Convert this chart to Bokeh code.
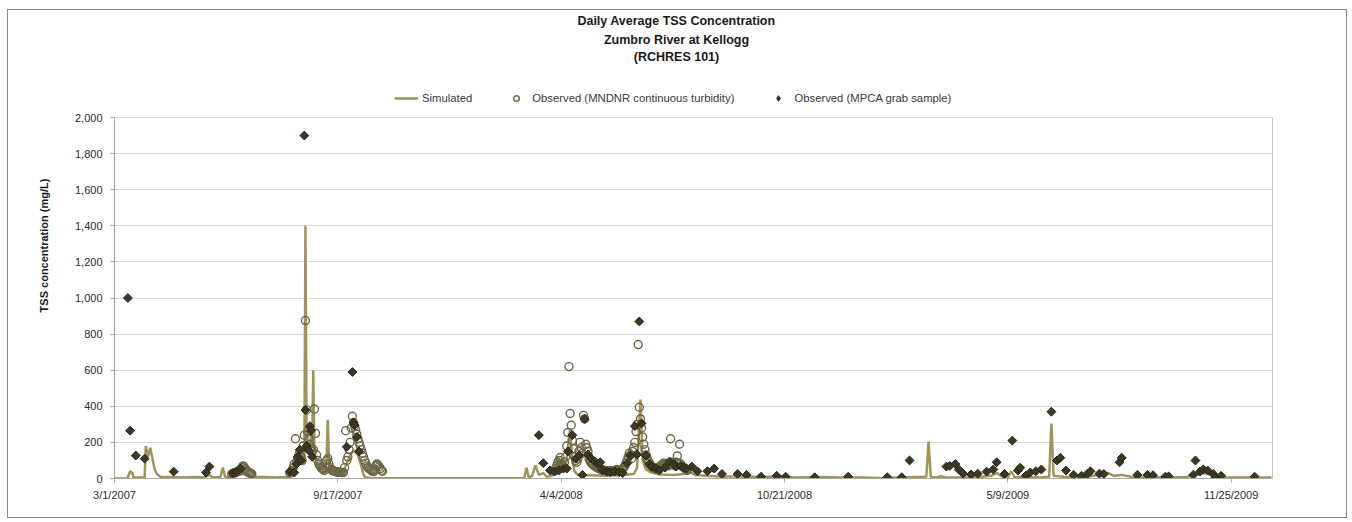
import numpy as np
import pandas as pd
from bokeh.plotting import figure
from bokeh.models import (Range1d, FixedTicker, NumeralTickFormatter, Legend,
                          LegendItem, Label, ColumnDataSource, LinearAxis)
from bokeh.embed import file_html
from bokeh.resources import INLINE

# ---------------- data ----------------
START = "2007-03-01"
END = "2010-01-01"
TITLE_LINES = ["Daily Average TSS Concentration", "Zumbro River at Kellogg", "(RCHRES 101)"]
Y_LABEL = "TSS concentration (mg/L)"
X_TICK_LABELS = ["3/1/2007", "9/17/2007", "4/4/2008", "10/21/2008", "5/9/2009", "11/25/2009"]
Y_TICKS = [0, 200, 400, 600, 800, 1000, 1200, 1400, 1600, 1800, 2000]
SERIES_NAMES = ["Simulated", "Observed (MNDNR continuous turbidity)", "Observed (MPCA grab sample)"]

# Simulated (vertices, days after START)
sim_day = [0, 11, 12, 14, 16, 17, 27, 28, 30, 32, 34, 36, 38, 41, 50, 60, 75, 80, 85, 88,
           95, 97, 99, 105, 110, 115, 120, 125, 135, 145, 155, 158, 160, 163, 166, 168, 170,
           171, 172, 173, 175, 176, 177, 178, 179, 181, 183, 185, 187, 189, 190, 191, 192,
           193, 195, 198, 202, 205, 207, 209, 212, 215, 218, 221, 223, 225, 230, 300, 365,
           367, 369, 371, 374, 377, 380, 384, 387, 392, 395, 397, 400, 404, 408, 410, 412,
           415, 425, 440, 455, 465, 468, 471, 473, 476, 480, 488, 500, 510, 515, 520, 530,
           545, 560, 575, 590, 610, 630, 650, 670, 690, 700, 715, 727, 729, 731, 735, 740,
           745, 770, 785, 790, 795, 800, 803, 806, 830, 837, 839, 841, 850, 870, 890, 895,
           902, 910, 940, 960, 970, 978, 985, 995, 1036]
sim_val = [0, 0, 8, 40, 30, 5, 5, 180, 120, 170, 110, 50, 25, 10, 8, 5, 8, 5, 20, 5,
           10, 60, 10, 8, 20, 25, 15, 10, 8, 5, 8, 20, 60, 120, 150, 90, 80,
           1400, 250, 200, 150, 250, 180, 600, 150, 90, 70, 60, 50, 60, 120, 325, 120,
           60, 45, 40, 35, 40, 70, 100, 140, 155, 130, 70, 20, 5, 2, 2, 2,
           5, 60, 5, 15, 72, 20, 30, 10, 15, 40, 116, 40, 60, 277, 100, 40,
           20, 18, 15, 20, 25, 60, 438, 100, 50, 35, 22, 20, 25, 35, 20, 15,
           10, 12, 8, 10, 5, 8, 5, 5, 2, 5, 8, 10, 205, 10, 5, 12,
           5, 5, 15, 30, 10, 5, 40, 8, 5, 10, 305, 15, 10, 8, 30, 15,
           20, 10, 5, 8, 25, 30, 10, 5, 5]

# Observed (MNDNR continuous turbidity): daily values in three runs
dnr_run_start = ["2007-06-14", "2007-08-05", "2008-03-29"]
dnr_run1 = [25, 28, 30, 32, 35, 38, 40, 45, 50, 60, 70, 65, 55, 45, 40, 35, 30, 28, 25]
dnr_run2 = [30, 35, 45, 60, 80, 220, 90, 110, 130, 150, 120, 100, 180, 240, 875, 380, 260,
            220, 190, 170, 150, 160, 385, 250, 130, 100, 80, 70, 60, 55, 50, 45, 60, 100,
            110, 80, 60, 50, 45, 42, 40, 38, 36, 35, 35, 34, 33, 33, 33, 60, 265, 100, 120,
            160, 200, 280, 345, 310, 290, 270, 245, 220, 200, 180, 160, 140, 120, 100, 85,
            70, 60, 55, 50, 45, 40, 38, 50, 70, 80, 75, 65, 55, 45, 40]
dnr_run3 = [40, 55, 70, 90, 100, 116, 80, 70, 60, 90, 120, 180, 255, 620, 360, 295, 210,
            165, 120, 100, 90, 110, 150, 200, 170, 140, 350, 330, 190, 170, 150, 110, 95,
            85, 80, 75, 70, 65, 60, 58, 55, 52, 50, 48, 45, 45, 42, 40, 40, 42, 45, 42, 40,
            38, 40, 45, 50, 45, 40, 42, 45, 50, 60, 70, 85, 100, 120, 140, 130, 110, 150,
            170, 200, 260, 300, 742, 395, 330, 280, 230, 190, 160, 130, 110, 95, 85, 75, 68,
            62, 58, 55, 55, 58, 62, 65, 70, 75, 80, 85, 80, 75, 75, 70, 80, 220, 90, 80, 75,
            70, 90, 125, 85, 190, 80, 70, 65, 60, 55, 50, 45]

# Observed (MPCA grab sample), days after START
pca_day = [12, 14, 19, 27, 53, 82, 85, 106, 109, 113, 157, 161, 163, 164, 166, 167, 170,
           171, 172, 174, 175, 176, 177, 208, 213, 214, 215, 217, 219,
           380, 384, 390, 394, 398, 402, 405, 406, 410, 413, 416, 419, 421, 424, 427, 430,
           433, 435, 437, 441, 444, 448, 452, 455, 459, 462, 466, 468, 470, 472, 476, 479,
           481, 485, 488, 493, 497, 501, 503, 507, 510, 512, 517, 522, 531, 537, 544, 558,
           566, 579, 593, 601, 627, 657, 692, 705, 712, 745, 748, 753, 756, 760, 767, 773,
           781, 787, 790, 797, 804, 809, 811, 816, 820, 825, 830, 839, 844, 847, 852, 859,
           866, 871, 874, 882, 886, 900, 902, 916, 925, 930, 941, 944, 966, 968, 972, 975,
           979, 984, 986, 991, 1021]
pca_val = [1000, 265, 127, 110, 38, 33, 66, 30, 35, 55, 38, 33, 80, 120, 160, 100, 1900,
           380, 180, 155, 290, 265, 120, 175, 590, 310, 295, 230, 150,
           240, 85, 45, 40, 45, 55, 55, 150, 240, 110, 127, 20, 330, 133, 110, 95,
           80, 90, 45, 40, 35, 40, 35, 30, 85, 127, 290, 133, 870, 305, 127, 80,
           66, 55, 45, 60, 94, 80, 66, 70, 60, 55, 66, 40, 40, 55, 25, 25,
           20, 10, 15, 10, 7, 10, 7, 7, 100, 66, 70, 80, 50, 27, 22, 27,
           38, 50, 90, 25, 210, 44, 60, 15, 33, 40, 50, 370, 100, 115, 44, 20,
           15, 25, 40, 27, 25, 90, 115, 20, 20, 18, 10, 12, 20, 100, 38, 50,
           44, 25, 7, 15, 10]

# ---------------- build ----------------
t0 = pd.Timestamp(START)


def days_to_dates(days):
    return t0 + pd.to_timedelta(np.asarray(days, dtype=float), unit="D")


sim_src = ColumnDataSource(dict(x=days_to_dates(sim_day), y=sim_val))
dnr_x, dnr_y = [], []
for s, vals in zip(dnr_run_start, [dnr_run1, dnr_run2, dnr_run3]):
    dnr_x.extend(pd.date_range(s, periods=len(vals), freq="D"))
    dnr_y.extend(vals)
dnr_src = ColumnDataSource(dict(x=dnr_x, y=dnr_y))
pca_src = ColumnDataSource(dict(x=days_to_dates(pca_day), y=pca_val))

FONT = "Liberation Sans"
SIM_COLOR = "#9f945c"
DNR_COLOR = "#6d6647"
PCA_FILL = "#3d3823"
PCA_LINE = "#29261a"
AXIS_GREY = "#a8a8a8"

# layout (pixels): the header (titles + legend) lives inside the frame,
# above the plotting area that spans 0..Y_MAX
CANVAS_W, CANVAS_H = 1340, 509
BORDER_L, BORDER_R, BORDER_T, BORDER_B = 106, 76, 2, 41
PLOT_AREA_H = 361                      # height of the 0..Y_MAX area
FRAME_H = CANVAS_H - BORDER_T - BORDER_B
Y_MAX = Y_TICKS[-1]
Y_TOP = Y_MAX * FRAME_H / PLOT_AREA_H

p = figure(width=CANVAS_W, height=CANVAS_H, x_axis_type="datetime",
           x_range=Range1d(pd.Timestamp(START), pd.Timestamp(END)),
           y_range=Range1d(0, Y_TOP), output_backend="svg", toolbar_location=None,
           title=None, min_border_left=BORDER_L, min_border_right=BORDER_R,
           min_border_top=BORDER_T, min_border_bottom=BORDER_B)
p.styles = {"border": "1px solid #8a8a8a", "margin-left": "7px", "margin-top": "9px"}
p.background_fill_color = "white"
p.border_fill_color = "white"
p.outline_line_color = None

r_sim = p.line("x", "y", source=sim_src, line_color=SIM_COLOR, line_width=2.5)
r_dnr = p.scatter("x", "y", source=dnr_src, marker="circle", size=8, fill_color=None,
                  line_color=DNR_COLOR, line_width=1.4)
# grab samples: square turned 45 degrees (equal width and height, as in the reference)
r_pca = p.scatter("x", "y", source=pca_src, marker="square", angle=np.pi / 4, size=6.3,
                  fill_color=PCA_FILL, line_color=PCA_LINE, line_width=1)
# legend swatch for the grab samples (legend glyphs are drawn unrotated);
# its single row has no value, so nothing is drawn in the plot itself
key_src = ColumnDataSource(dict(x=[t0], y=[np.nan]))
r_pca_key = p.scatter("x", "y", source=key_src, marker="diamond", size=9,
                      fill_color=PCA_FILL, line_color=PCA_LINE, line_width=1)

# axes
tick_ts = pd.to_datetime(X_TICK_LABELS, format="%m/%d/%Y")
tick_ms = [float(t.value // 10**6) for t in tick_ts]
p.xaxis.ticker = FixedTicker(ticks=tick_ms)
p.xaxis.major_label_overrides = {ms: lab for ms, lab in zip(tick_ms, X_TICK_LABELS)}
p.yaxis.ticker = FixedTicker(ticks=Y_TICKS)
p.yaxis.formatter = NumeralTickFormatter(format="0,0")
p.yaxis.bounds = (0, Y_MAX)
p.yaxis.axis_label = Y_LABEL

for ax in (p.xaxis[0], p.yaxis[0]):
    ax.axis_line_color = AXIS_GREY
    ax.major_tick_line_color = AXIS_GREY
    ax.major_tick_out = 4
    ax.major_tick_in = 0
    ax.minor_tick_line_color = None
    ax.major_label_text_font = FONT
    ax.major_label_text_font_size = "11px"
    ax.major_label_text_color = "#2b2b2b"
p.xaxis.major_label_standoff = 6
p.yaxis.major_label_standoff = 8
p.yaxis.axis_label_text_font = FONT
p.yaxis.axis_label_text_font_size = "11px"
p.yaxis.axis_label_text_font_style = "bold"
p.yaxis.axis_label_text_color = "#1a1a1a"
p.yaxis.axis_label_standoff = 22

# right edge of the plotting area
right_edge = LinearAxis(bounds=(0, Y_MAX), ticker=FixedTicker(ticks=[]),
                        axis_line_color="#c6c6c6", major_tick_line_color=None,
                        minor_tick_line_color=None, major_label_text_font_size="0px")
p.add_layout(right_edge, "right")

p.xgrid.grid_line_color = None
p.ygrid.grid_line_color = "#d9d9d9"
p.ygrid.grid_line_width = 1
p.ygrid.bounds = (0, Y_MAX)

# legend (screen px measured from frame bottom-left)
legend = Legend(items=[LegendItem(label=SERIES_NAMES[0], renderers=[r_sim]),
                       LegendItem(label=SERIES_NAMES[1], renderers=[r_dnr]),
                       LegendItem(label=SERIES_NAMES[2], renderers=[r_pca_key])],
                orientation="horizontal", location=(280, PLOT_AREA_H + 12),
                spacing=32, glyph_width=24, glyph_height=14, label_standoff=4, padding=2,
                margin=0, border_line_color=None, background_fill_alpha=0,
                label_text_font=FONT, label_text_font_size="11.3px",
                label_text_color="#3a3a3a")
p.add_layout(legend, "center")

# three title lines centred on the whole chart
for text, dy in zip(TITLE_LINES, [PLOT_AREA_H + 97, PLOT_AREA_H + 78, PLOT_AREA_H + 61]):
    p.add_layout(Label(x=562, y=dy, x_units="screen", y_units="screen",
                       text=text, text_align="center", text_baseline="middle",
                       text_font=FONT, text_font_size="12.5px", text_font_style="bold",
                       text_color="#1a1a1a"))

open("out.html", "w").write(file_html(p, INLINE))
